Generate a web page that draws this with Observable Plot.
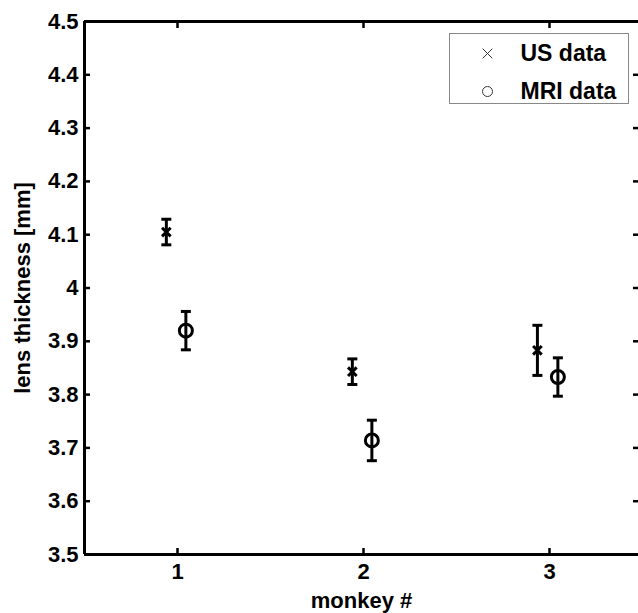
<!DOCTYPE html>
<html><head><meta charset="utf-8">
<script src="https://cdn.jsdelivr.net/npm/d3@7"></script>
<script src="https://cdn.jsdelivr.net/npm/@observablehq/plot@0.6"></script>
<style>
body{margin:0;background:#fff;overflow:hidden}
svg{display:block}
</style>
</head><body><div id="chart"></div>
<script>
// ---- data ----
const xTicks = [1, 2, 3];
const xTickLabels = ["1", "2", "3"];
const yTicks = [3.5, 3.6, 3.7, 3.8, 3.9, 4.0, 4.1, 4.2, 4.3, 4.4, 4.5];
const yTickLabels = ["3.5", "3.6", "3.7", "3.8", "3.9", "4", "4.1", "4.2", "4.3", "4.4", "4.5"];

const usX    = [0.94, 1.94, 2.935];
const usMean = [4.105, 3.843, 3.883];
const usErr  = [0.024, 0.024, 0.047];

const mriX    = [1.045, 2.045, 3.045];
const mriMean = [3.920, 3.714, 3.833];
const mriErr  = [0.036, 0.038, 0.036];

const legendLabels = ["US data", "MRI data"];
const legendSymbols = ["times", "circle"];
const xLabel = "monkey #";
const yLabel = "lens thickness [mm]";

// ---- tables built from arrays ----
const us = usX.map((x, i) => ({x, y: usMean[i], lo: usMean[i] - usErr[i], hi: usMean[i] + usErr[i]}));
const mri = mriX.map((x, i) => ({x, y: mriMean[i], lo: mriMean[i] - mriErr[i], hi: mriMean[i] + mriErr[i]}));
const all = us.concat(mri);

const capSymbol = {draw(ctx, size) { const w = Math.sqrt(size / Math.PI); ctx.moveTo(-w, 0); ctx.lineTo(w, 0); }};

const W = 638, H = 613;
const mL = 84, mT = 21, mB = 59, mR = 0;
const font = "'Liberation Sans', Arial, Helvetica, sans-serif";
const fs = 22;

const legendMarks = legendLabels.flatMap((lab, i) => [
  Plot.dot([lab], {frameAnchor: "top-right", dx: -151, dy: 32 + i * 38, symbol: legendSymbols[i],
    r: legendSymbols[i] === "times" ? 4.5 : 5, stroke: "#333", strokeWidth: 1, fill: "none"}),
  Plot.text([lab], {frameAnchor: "top-right", dx: -118, dy: 32 + i * 38, text: d => d,
    textAnchor: "start", lineAnchor: "middle", fontWeight: "bold", fontSize: 23, fill: "black"})
]);

const chart = Plot.plot({
  width: W, height: H,
  marginLeft: mL, marginTop: mT, marginBottom: mB, marginRight: mR,
  style: {fontFamily: font, background: "white", overflow: "visible"},
  x: {domain: [0.5, 3.5], range: [mL, 642]},
  y: {domain: [3.5, 4.5], range: [H - mB, mT]},
  marks: [
    // tick labels
    Plot.axisY({ticks: yTicks, tickFormat: d => yTickLabels[yTicks.indexOf(d)], tickSize: 0, tickPadding: 6,
      label: null, fontSize: fs, fontWeight: "bold", fill: "black"}),
    Plot.axisX({ticks: xTicks, tickFormat: d => xTickLabels[xTicks.indexOf(d)], tickSize: 0, tickPadding: 9,
      label: null, fontSize: fs, fontWeight: "bold", fill: "black"}),
    // inward ticks
    Plot.axisY({anchor: "left", ticks: yTicks, tickFormat: () => "", tickSize: -6, strokeWidth: 2.5, label: null}),
    Plot.axisY({anchor: "right", ticks: yTicks, tickFormat: () => "", tickSize: -6, strokeWidth: 2.5, label: null}),
    Plot.axisX({anchor: "bottom", ticks: xTicks, tickFormat: () => "", tickSize: -6, strokeWidth: 2.5, label: null}),
    Plot.axisX({anchor: "top", ticks: xTicks, tickFormat: () => "", tickSize: -6, strokeWidth: 2.5, label: null}),
    // spines
    Plot.ruleY([3.5, 4.5], {stroke: "black", strokeWidth: 3}),
    Plot.ruleX([0.5], {stroke: "black", strokeWidth: 3}),
    // error bars
    Plot.ruleX(all, {x: "x", y1: "lo", y2: "hi", stroke: "black", strokeWidth: 3}),
    Plot.dot(all, {x: "x", y: "lo", symbol: capSymbol, r: 5, stroke: "black", strokeWidth: 3}),
    Plot.dot(all, {x: "x", y: "hi", symbol: capSymbol, r: 5, stroke: "black", strokeWidth: 3}),
    // markers
    Plot.dot(us, {x: "x", y: "y", symbol: "times", r: 4, stroke: "black", strokeWidth: 3}),
    Plot.dot(mri, {x: "x", y: "y", symbol: "circle", r: 6.5, stroke: "black", strokeWidth: 3, fill: "none"}),
    // axis titles
    Plot.text([yLabel], {frameAnchor: "left", dx: -62, rotate: -90, text: d => d, textAnchor: "middle", lineAnchor: "middle",
      fontWeight: "bold", fontSize: fs, fill: "black"}),
    Plot.text([xLabel], {frameAnchor: "bottom", dy: 46, text: d => d, textAnchor: "middle", lineAnchor: "middle",
      fontWeight: "bold", fontSize: fs, fill: "black"}),
    // legend
    Plot.frame({fill: "white", stroke: "#888", strokeWidth: 1, insetLeft: 449 - mL, insetRight: W - 628, insetTop: 33 - mT, insetBottom: (H - mB) - 103}),
    ...legendMarks
  ]
});
document.getElementById("chart").appendChild(chart);
</script>
</body></html>
